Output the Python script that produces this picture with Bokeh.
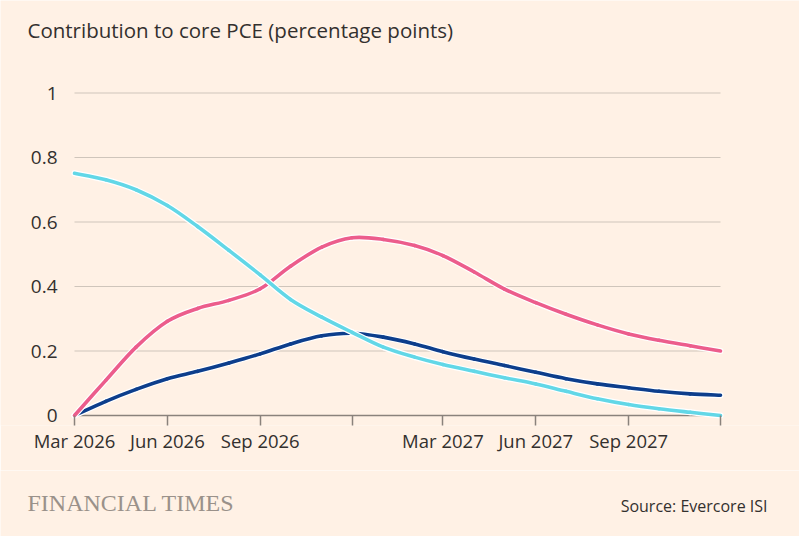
import pandas as pd
from bokeh.plotting import figure
from bokeh.layouts import column
from bokeh.models import Range1d, FixedTicker, Label, ColumnDataSource
from bokeh.core.properties import value
from bokeh.embed import file_html
from bokeh.resources import INLINE

# ---- data ----
months = ["2026-03-01", "2026-04-01", "2026-05-01", "2026-06-01", "2026-07-01", "2026-08-01",
          "2026-09-01", "2026-10-01", "2026-11-01", "2026-12-01", "2027-01-01", "2027-02-01",
          "2027-03-01", "2027-04-01", "2027-05-01", "2027-06-01", "2027-07-01", "2027-08-01",
          "2027-09-01", "2027-10-01", "2027-11-01", "2027-12-01"]
series_cyan = [0.751, 0.731, 0.700, 0.651, 0.586, 0.512, 0.436, 0.360, 0.305, 0.258, 0.212,
               0.181, 0.158, 0.137, 0.117, 0.098, 0.075, 0.052, 0.034, 0.021, 0.010, 0.0]
series_pink = [0.0, 0.109, 0.212, 0.292, 0.332, 0.357, 0.393, 0.463, 0.522, 0.551, 0.546,
               0.527, 0.496, 0.445, 0.392, 0.350, 0.314, 0.281, 0.253, 0.233, 0.216, 0.200]
series_navy = [0.0, 0.044, 0.081, 0.114, 0.137, 0.163, 0.191, 0.222, 0.247, 0.255, 0.243,
               0.222, 0.198, 0.175, 0.155, 0.134, 0.114, 0.098, 0.086, 0.075, 0.067, 0.063]

x_tick_dates = ["2026-03-01", "2026-06-01", "2026-09-01", "2026-12-01",
                "2027-03-01", "2027-06-01", "2027-09-01", "2027-12-01"]
x_tick_labels = ["Mar 2026", "Jun 2026", "Sep 2026", "", "Mar 2027", "Jun 2027", "Sep 2027", ""]
y_ticks = [0, 0.2, 0.4, 0.6, 0.8, 1]
y_tick_labels = ["0", "0.2", "0.4", "0.6", "0.8", "1"]

title_text = "Contribution to core PCE (percentage points)"
source_text = "Source: Evercore ISI"
logo_text = "FINANCIAL TIMES"

# ---- style / layout constants ----
BG = "#fff1e5"
FONT = "Open Sans"
TEXT = "#33302e"
GRID = "#cfc5bb"
AXIS = "#8a827c"
W = 799
MAIN_H = 470          # title + plot + x axis
FOOT_H = 66
PLOT_LEFT, PLOT_RIGHT = 74, 720      # pixel extent of the time axis
ZERO_PX = 415                        # pixel row of y = 0
TICK_LEN = 10                        # tick marks hang below the zero line
PX_PER_UNIT = 322.5                  # pixels per 1 percentage point
FRAME_BOTTOM = ZERO_PX + TICK_LEN


def ms(d):
    return float(pd.Timestamp(d).value // 10**6)


xs = [ms(m) for m in months]


def smooth_segments(xv, yv):
    """Catmull-Rom through the data points, expressed as cubic Bezier control points."""
    n = len(xv)
    out = dict(x0=[], y0=[], x1=[], y1=[], cx0=[], cy0=[], cx1=[], cy1=[])
    for i in range(n - 1):
        xa, ya = xv[max(i - 1, 0)], yv[max(i - 1, 0)]
        xb, yb = xv[i], yv[i]
        xc, yc = xv[i + 1], yv[i + 1]
        xd, yd = xv[min(i + 2, n - 1)], yv[min(i + 2, n - 1)]
        out["x0"].append(xb); out["y0"].append(yb)
        out["x1"].append(xc); out["y1"].append(yc)
        out["cx0"].append(xb + (xc - xa) / 6.0); out["cy0"].append(yb + (yc - ya) / 6.0)
        out["cx1"].append(xc - (xd - xb) / 6.0); out["cy1"].append(yc - (yd - yb) / 6.0)
    return ColumnDataSource(out)


# ranges so that the frame covers the full width and everything above the tick ends
a, b = xs[0], xs[-1]
per_px = (b - a) / (PLOT_RIGHT - PLOT_LEFT)
x_range = Range1d(a - PLOT_LEFT * per_px, b + (W - PLOT_RIGHT) * per_px)
y_range = Range1d(-TICK_LEN / PX_PER_UNIT, ZERO_PX / PX_PER_UNIT)

p = figure(width=W, height=MAIN_H, x_axis_type="datetime", output_backend="svg",
           toolbar_location=None, x_range=x_range, y_range=y_range,
           y_axis_location=None,
           min_border_left=0, min_border_right=0, min_border_top=0,
           min_border_bottom=MAIN_H - FRAME_BOTTOM)
p.background_fill_color = BG
p.border_fill_color = BG
p.outline_line_color = None
p.xgrid.grid_line_color = None
p.ygrid.grid_line_color = None

# horizontal gridlines over the time span, one per y tick
p.segment(x0=[a] * len(y_ticks), x1=[b] * len(y_ticks), y0=y_ticks, y1=y_ticks,
          line_color=GRID, line_width=1)
# zero baseline (axis line)
p.segment(x0=[a], x1=[b], y0=[y_ticks[0]], y1=[y_ticks[0]], line_color=AXIS, line_width=1.5)
# y tick labels
p.text(x=[a] * len(y_ticks), y=y_ticks, text=y_tick_labels, x_offset=-17,
       text_align="right", text_baseline="middle", text_font=value(FONT),
       text_font_size="19px", text_color=TEXT)

# x axis: sits at the frame bottom, ticks point up to the zero line
xa = p.xaxis[0]
xa.bounds = (a, b)
xa.ticker = FixedTicker(ticks=[ms(d) for d in x_tick_dates])
xa.major_label_overrides = {ms(d): l for d, l in zip(x_tick_dates, x_tick_labels)}
xa.axis_line_color = None
xa.major_tick_line_color = AXIS
xa.major_tick_line_width = 1.5
xa.major_tick_in = TICK_LEN
xa.major_tick_out = 0
xa.minor_tick_line_color = None
xa.major_label_standoff = 2
xa.major_label_text_font = FONT
xa.major_label_text_font_size = "18.5px"
xa.major_label_text_color = TEXT

for vals, color in [(series_navy, "#0d3e8c"), (series_pink, "#ec5d8c"), (series_cyan, "#62d7e7")]:
    s = smooth_segments(xs, vals)
    p.bezier(x0="x0", y0="y0", x1="x1", y1="y1", cx0="cx0", cy0="cy0", cx1="cx1", cy1="cy1",
             source=s, line_color="white", line_width=6, line_cap="round")
    p.bezier(x0="x0", y0="y0", x1="x1", y1="y1", cx0="cx0", cy0="cy0", cx1="cx1", cy1="cy1",
             source=s, line_color=color, line_width=3.6, line_cap="round")

# chart title (screen units relative to the frame's bottom-left corner)
p.add_layout(Label(x=27, y=FRAME_BOTTOM - 29, x_units="screen", y_units="screen",
                   text=title_text, text_font=FONT, text_font_size="20.5px",
                   text_color=TEXT, text_baseline="middle", text_align="left"))

# footer
foot = figure(width=W, height=FOOT_H, output_backend="svg", toolbar_location=None,
              x_range=Range1d(0, W), y_range=Range1d(FOOT_H, 0),
              x_axis_location=None, y_axis_location=None, min_border=0)
foot.background_fill_color = BG
foot.border_fill_color = BG
foot.outline_line_color = None
foot.xgrid.grid_line_color = None
foot.ygrid.grid_line_color = None
foot.add_layout(Label(x=27, y=32, text=logo_text, text_font="Liberation Serif",
                      text_font_size="24px", text_color="#9a918a",
                      text_baseline="middle", text_align="left"))
foot.add_layout(Label(x=767, y=35, text=source_text, text_font=FONT, text_font_size="16px",
                      text_color=TEXT, text_baseline="middle", text_align="right"))

layout = column(p, foot, spacing=0)
open("out.html", "w").write(file_html(layout, INLINE))
